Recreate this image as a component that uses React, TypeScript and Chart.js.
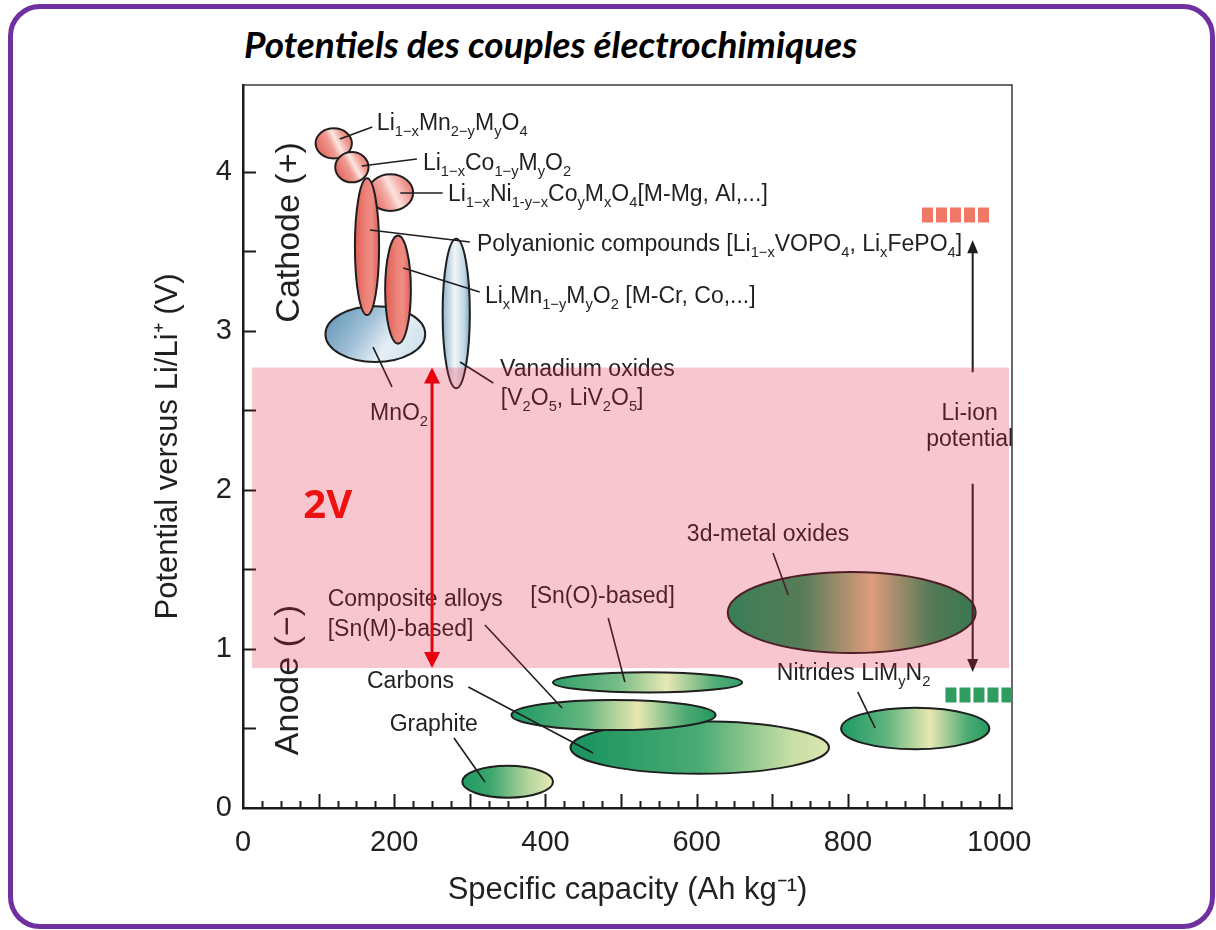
import React, { useEffect, useRef } from 'react';
import { Chart, registerables } from 'chart.js';

Chart.register(...registerables);

// ---------- axes ----------
const X_TICKS = [0, 200, 400, 600, 800, 1000];
const Y_TICKS = [0, 1, 2, 3, 4];
const X_MIN = 0;
const X_MAX = 1017;
const Y_MIN = 0;
const Y_MAX = 4.547;
const X_TITLE = 'Specific capacity (Ah kg⁻¹)';
const Y_TITLE = 'Potential versus Li/Li⁺ (V)';
const CHART_TITLE = 'Potentiels des couples électrochimiques';

// ---------- material domains (capacity Ah/kg, potential V) ----------
const ELLIPSE_NAMES = [
  'MnO2', 'LiMn2O4', 'LiCoO2', 'LiNiCoO4', 'Polyanionic', 'LiMnO2', 'Vanadium',
  'Graphite', 'Carbons', 'Composite', 'SnO', 'Oxides3d', 'Nitrides',
];
const ELLIPSE_CX = [175, 120, 144, 195, 164, 205, 282, 350, 604, 490, 535, 805, 889];
const ELLIPSE_CY = [2.98, 4.18, 4.03, 3.87, 3.53, 3.26, 3.11, 0.165, 0.38, 0.585, 0.79, 1.23, 0.5];
const ELLIPSE_RX = [66, 24, 22, 30, 16, 17, 18, 60, 171, 135, 125, 164, 98];
const ELLIPSE_RY = [0.175, 0.095, 0.095, 0.115, 0.43, 0.34, 0.47, 0.1, 0.165, 0.095, 0.063, 0.255, 0.13];

// ---------- labels ----------
const LABEL_TEXT = [
  'Li_{1−x}Mn_{2−y}M_{y}O_{4}',
  'Li_{1−x}Co_{1−y}M_{y}O_{2}',
  'Li_{1−x}Ni_{1-y−x}Co_{y}M_{x}O_{4}[M-Mg, Al,...]',
  'Polyanionic compounds [Li_{1−x}VOPO_{4}, Li_{x}FePO_{4}]',
  'Li_{x}Mn_{1−y}M_{y}O_{2} [M-Cr, Co,...]',
  'Vanadium oxides',
  '[V_{2}O_{5}, LiV_{2}O_{5}]',
  'MnO_{2}',
  'Composite alloys',
  '[Sn(M)-based]',
  '[Sn(O)-based]',
  'Carbons',
  'Graphite',
  '3d-metal oxides',
  'Nitrides LiM_{y}N_{2}',
];
const LABEL_X = [177, 238, 271, 309.5, 320, 340, 341, 168, 112, 112, 380, 164, 194, 587, 706];
const LABEL_Y = [4.314, 4.063, 3.868, 3.553, 3.226, 2.767, 2.585, 2.49, 1.321, 1.132, 1.34, 0.805, 0.535, 1.73, 0.855];

const LEADER_X1 = [128, 157, 208, 168, 212, 287, 172, 320, 483, 298, 279, 701, 813];
const LEADER_Y1 = [4.208, 4.038, 3.868, 3.635, 3.396, 2.805, 2.899, 1.151, 1.195, 0.761, 0.44, 1.604, 0.73];
const LEADER_X2 = [171, 230, 264, 300, 313, 331, 197, 422, 505, 463, 320, 721, 836];
const LEADER_Y2 = [4.283, 4.082, 3.868, 3.56, 3.245, 2.673, 2.648, 0.629, 0.792, 0.346, 0.164, 1.34, 0.503];

const SIDE_TEXT = ['Cathode (+)', 'Anode (−)'];
const SIDE_X = [62, 60];
const SIDE_Y = [3.62, 0.805];

// ---------- Li-ion potential markers ----------
const LIION_X = 965;
const LIION_UP = [2.74, 3.57];
const LIION_DOWN = [2.04, 0.855];
const LIION_TEXT = ['Li-ion', 'potential'];
const LIION_TEXT_Y = [2.49, 2.327];
const CATHODE_BAR_X = [898, 988];
const CATHODE_BAR_Y = 3.73;
const ANODE_BAR_X = [929, 1017];
const ANODE_BAR_Y = 0.71;

// ---------- 2V window ----------
const BAND_X = [12, 1013];
const BAND_Y = [0.88, 2.77];
const GAP_X = 250;
const GAP_TEXT = '2V';
const GAP_TEXT_X = 112;
const GAP_TEXT_Y = 1.893;

const FONT = "'Liberation Sans', Arial, Helvetica, sans-serif";
const INK = '#231f20';

type Stops = [number, string][];
const STYLES: Record<string, { dir: 'h' | 'd' | 'd2'; stops: Stops }> = {
  MnO2: { dir: 'd', stops: [[0, '#5a8fb3'], [0.45, '#9fc0d6'], [0.75, '#e6eff5'], [1, '#d3e3ed']] },
  LiMn2O4: { dir: 'd2', stops: [[0, '#e35d55'], [0.42, '#f09a91'], [0.58, '#fbe6e1'], [0.78, '#f09e95'], [1, '#e56d64']] },
  LiCoO2: { dir: 'd2', stops: [[0, '#e35d55'], [0.42, '#f09a91'], [0.58, '#fbe6e1'], [0.78, '#f09e95'], [1, '#e56d64']] },
  LiNiCoO4: { dir: 'd2', stops: [[0, '#e35d55'], [0.4, '#f3aaa2'], [0.55, '#fbe3de'], [0.8, '#f0a098'], [1, '#e56d64']] },
  Polyanionic: { dir: 'h', stops: [[0, '#e05c54'], [0.45, '#ec8379'], [0.7, '#ee8d83'], [1, '#de5f57']] },
  LiMnO2: { dir: 'h', stops: [[0, '#e05c54'], [0.45, '#ec8379'], [0.7, '#ee8d83'], [1, '#de5f57']] },
  Vanadium: { dir: 'h', stops: [[0, '#93b6cc'], [0.45, '#f1f6f9'], [0.8, '#c1d6e3'], [1, '#7aa3bd']] },
  Graphite: { dir: 'h', stops: [[0, '#1f9b63'], [0.3, '#3aa56c'], [0.75, '#b9d8a0'], [1, '#e6e9b3']] },
  Carbons: { dir: 'h', stops: [[0, '#17925e'], [0.5, '#4aab74'], [0.85, '#c6dea4'], [1, '#dde7b2']] },
  Composite: { dir: 'h', stops: [[0, '#1b9862'], [0.35, '#62b47e'], [0.62, '#e8e7b0'], [0.85, '#4daa74'], [1, '#23985f']] },
  SnO: { dir: 'h', stops: [[0, '#2e9f69'], [0.35, '#78bd88'], [0.6, '#e8e8b4'], [0.85, '#55ad77'], [1, '#339f6a']] },
  Oxides3d: { dir: 'h', stops: [[0, '#00a060'], [0.3, '#2a9c62'], [0.58, '#dcc894'], [0.82, '#27985f'], [1, '#00975a']] },
  Nitrides: { dir: 'h', stops: [[0, '#1c9a63'], [0.3, '#5db37d'], [0.6, '#e8e8b2'], [0.85, '#4eab74'], [1, '#26995f']] },
};

function parseRich(text: string) {
  const segs: { t: string; k: number }[] = [];
  let buf = '';
  let i = 0;
  while (i < text.length) {
    const c = text[i];
    if ((c === '_' || c === '^') && text[i + 1] === '{') {
      if (buf) segs.push({ t: buf, k: 0 });
      buf = '';
      const end = text.indexOf('}', i);
      segs.push({ t: text.slice(i + 2, end), k: c === '_' ? 1 : 2 });
      i = end + 1;
    } else {
      buf += c;
      i++;
    }
  }
  if (buf) segs.push({ t: buf, k: 0 });
  return segs;
}

function drawRich(ctx: CanvasRenderingContext2D, text: string, x: number, cy: number, size: number, align: 'left' | 'center', color: string) {
  const segs = parseRich(text);
  const sub = size * 0.64;
  let w = 0;
  for (const s of segs) {
    ctx.font = `${s.k ? sub : size}px ${FONT}`;
    w += ctx.measureText(s.t).width;
  }
  let cx = align === 'center' ? x - w / 2 : x;
  const base = cy + size * 0.36;
  ctx.fillStyle = color;
  ctx.textBaseline = 'alphabetic';
  ctx.textAlign = 'left';
  for (const s of segs) {
    ctx.font = `${s.k ? sub : size}px ${FONT}`;
    const dy = s.k === 1 ? size * 0.26 : s.k === 2 ? -size * 0.4 : 0;
    ctx.fillText(s.t, cx, base + dy);
    cx += ctx.measureText(s.t).width;
  }
}

function arrowHead(ctx: CanvasRenderingContext2D, x: number, y: number, dir: number, len: number, half: number) {
  ctx.beginPath();
  ctx.moveTo(x, y);
  ctx.lineTo(x - half, y - dir * len);
  ctx.lineTo(x + half, y - dir * len);
  ctx.closePath();
  ctx.fill();
}

const annotationPlugin = {
  id: 'electroAnnotations',
  afterDatasetsDraw(chart: any) {
    const { ctx, chartArea: ca, scales } = chart;
    const xs = scales.x;
    const ys = scales.y;
    const X = (v: number) => xs.getPixelForValue(v);
    const Y = (v: number) => ys.getPixelForValue(v);
    ctx.save();

    // top / right frame of the plot
    ctx.strokeStyle = '#3a3a3a';
    ctx.lineWidth = 1.5;
    ctx.beginPath();
    ctx.moveTo(ca.left, ca.top);
    ctx.lineTo(ca.right, ca.top);
    ctx.lineTo(ca.right, ca.bottom);
    ctx.stroke();

    // inward tick marks
    ctx.strokeStyle = '#1a1a1a';
    ctx.lineWidth = 2;
    ctx.beginPath();
    for (let v = 25; v <= 1000; v += 25) {
      const px = Math.round(X(v)) + 0.5;
      const len = v % 100 === 0 ? 14 : 7;
      ctx.moveTo(px, ca.bottom);
      ctx.lineTo(px, ca.bottom - len);
    }
    for (let v = 0.5; v <= 4; v += 0.5) {
      const py = Math.round(Y(v)) + 0.5;
      ctx.moveTo(ca.left, py);
      ctx.lineTo(ca.left + 13, py);
    }
    ctx.stroke();

    ctx.beginPath();
    ctx.rect(ca.left, ca.top, ca.right - ca.left, ca.bottom - ca.top);
    ctx.clip();

    // domains
    for (let i = 0; i < ELLIPSE_NAMES.length; i++) {
      const cx = X(ELLIPSE_CX[i]);
      const cy = Y(ELLIPSE_CY[i]);
      const rx = Math.abs(X(ELLIPSE_CX[i] + ELLIPSE_RX[i]) - cx);
      const ry = Math.abs(Y(ELLIPSE_CY[i] + ELLIPSE_RY[i]) - cy);
      const st = STYLES[ELLIPSE_NAMES[i]];
      let g: CanvasGradient;
      if (st.dir === 'h') g = ctx.createLinearGradient(cx - rx, cy, cx + rx, cy);
      else if (st.dir === 'd') g = ctx.createLinearGradient(cx - rx, cy - ry, cx + rx * 0.6, cy + ry);
      else g = ctx.createLinearGradient(cx - rx, cy + ry * 0.6, cx + rx, cy - ry * 0.6);
      for (const [o, c] of st.stops) g.addColorStop(o, c);
      ctx.beginPath();
      ctx.ellipse(cx, cy, rx, ry, 0, 0, Math.PI * 2);
      ctx.fillStyle = g;
      ctx.fill();
      ctx.strokeStyle = '#1e1e1e';
      ctx.lineWidth = 2;
      ctx.stroke();
    }

    // leader lines
    ctx.strokeStyle = '#1e1e1e';
    ctx.lineWidth = 1.6;
    ctx.beginPath();
    for (let i = 0; i < LEADER_X1.length; i++) {
      ctx.moveTo(X(LEADER_X1[i]), Y(LEADER_Y1[i]));
      ctx.lineTo(X(LEADER_X2[i]), Y(LEADER_Y2[i]));
    }
    ctx.stroke();

    // labels
    for (let i = 0; i < LABEL_TEXT.length; i++) {
      drawRich(ctx, LABEL_TEXT[i], X(LABEL_X[i]), Y(LABEL_Y[i]), 23, 'left', INK);
    }
    for (let i = 0; i < SIDE_TEXT.length; i++) {
      ctx.save();
      ctx.translate(X(SIDE_X[i]), Y(SIDE_Y[i]));
      ctx.rotate(-Math.PI / 2);
      ctx.font = `34px ${FONT}`;
      ctx.fillStyle = INK;
      ctx.textAlign = 'center';
      ctx.textBaseline = 'middle';
      ctx.fillText(SIDE_TEXT[i], 0, 0);
      ctx.restore();
    }

    // Li-ion potential
    ctx.strokeStyle = '#1e1e1e';
    ctx.fillStyle = '#1e1e1e';
    ctx.lineWidth = 2;
    const lx = X(LIION_X);
    ctx.beginPath();
    ctx.moveTo(lx, Y(LIION_UP[0]));
    ctx.lineTo(lx, Y(LIION_UP[1]) + 8);
    ctx.moveTo(lx, Y(LIION_DOWN[0]));
    ctx.lineTo(lx, Y(LIION_DOWN[1]) - 8);
    ctx.stroke();
    arrowHead(ctx, lx, Y(LIION_UP[1]), -1, 13, 5.5);
    arrowHead(ctx, lx, Y(LIION_DOWN[1]), 1, 13, 5.5);
    for (let i = 0; i < LIION_TEXT.length; i++) {
      drawRich(ctx, LIION_TEXT[i], lx - 3, Y(LIION_TEXT_Y[i]), 23, 'center', INK);
    }
    ctx.lineWidth = 15;
    ctx.setLineDash([11, 3]);
    ctx.strokeStyle = '#f07866';
    ctx.beginPath();
    ctx.moveTo(X(CATHODE_BAR_X[0]), Y(CATHODE_BAR_Y));
    ctx.lineTo(X(CATHODE_BAR_X[1]), Y(CATHODE_BAR_Y));
    ctx.stroke();
    ctx.strokeStyle = '#2f9d5f';
    ctx.beginPath();
    ctx.moveTo(X(ANODE_BAR_X[0]), Y(ANODE_BAR_Y));
    ctx.lineTo(X(ANODE_BAR_X[1]), Y(ANODE_BAR_Y));
    ctx.stroke();
    ctx.setLineDash([]);

    // translucent 2V window
    ctx.fillStyle = 'rgba(223, 27, 59, 0.25)';
    const bx0 = X(BAND_X[0]);
    const by0 = Y(BAND_Y[1]);
    ctx.fillRect(bx0, by0, X(BAND_X[1]) - bx0, Y(BAND_Y[0]) - by0);

    // red double arrow
    const gx = X(GAP_X);
    const gTop = Y(BAND_Y[1]);
    const gBot = Y(BAND_Y[0]);
    ctx.strokeStyle = '#e8000f';
    ctx.fillStyle = '#e8000f';
    ctx.lineWidth = 3;
    ctx.beginPath();
    ctx.moveTo(gx, gTop + 10);
    ctx.lineTo(gx, gBot - 10);
    ctx.stroke();
    arrowHead(ctx, gx, gTop, -1, 16, 8);
    arrowHead(ctx, gx, gBot, 1, 16, 8);

    ctx.font = `700 40px 'Open Sans', ${FONT}`;
    ctx.fillStyle = '#ee1111';
    ctx.textAlign = 'center';
    ctx.textBaseline = 'middle';
    ctx.fillText(GAP_TEXT, X(GAP_TEXT_X), Y(GAP_TEXT_Y));

    ctx.restore();
  },
};

export default function App() {
  const canvasRef = useRef<HTMLCanvasElement | null>(null);

  useEffect(() => {
    const canvas = canvasRef.current;
    if (!canvas) return;
    const chart = new Chart(canvas, {
      type: 'scatter',
      data: {
        datasets: [
          {
            label: 'domains',
            data: ELLIPSE_CX.map((x, i) => ({ x, y: ELLIPSE_CY[i] })),
            pointRadius: 0,
            showLine: false,
          },
        ],
      },
      options: {
        responsive: false,
        animation: false,
        events: [],
        layout: { padding: { left: 0, top: 85, right: 204, bottom: 0 } },
        plugins: {
          legend: { display: false },
          tooltip: { enabled: false },
          title: { display: false },
        },
        scales: {
          x: {
            type: 'linear',
            min: X_MIN,
            max: X_MAX,
            afterBuildTicks: (s: any) => {
              s.ticks = X_TICKS.map((v) => ({ value: v }));
            },
            afterFit: (s: any) => {
              s.height = 122;
            },
            grid: { display: false, drawTicks: false },
            border: { display: true, color: '#1a1a1a', width: 2.5 },
            ticks: {
              font: { family: FONT, size: 29 },
              color: INK,
              padding: 18,
              maxRotation: 0,
              autoSkip: false,
              callback: (v: any) => String(v),
            },
            title: {
              display: true,
              text: X_TITLE,
              font: { family: FONT, size: 31 },
              color: INK,
              padding: { top: 0, bottom: 21 },
            },
          },
          y: {
            type: 'linear',
            min: Y_MIN,
            max: Y_MAX,
            afterBuildTicks: (s: any) => {
              s.ticks = Y_TICKS.map((v) => ({ value: v }));
            },
            afterFit: (s: any) => {
              s.width = 243;
            },
            grid: { display: false, drawTicks: false },
            border: { display: true, color: '#1a1a1a', width: 2.5 },
            ticks: {
              font: { family: FONT, size: 29 },
              color: INK,
              padding: 11,
              autoSkip: false,
              callback: (v: any) => String(v),
            },
            title: {
              display: true,
              text: Y_TITLE,
              font: { family: FONT, size: 31 },
              color: INK,
              padding: { top: 150, bottom: 0 },
            },
          },
        },
      },
      plugins: [annotationPlugin],
    });
    return () => chart.destroy();
  }, []);

  return (
    <div style={{ position: 'absolute', left: 0, top: 0, width: 1216, height: 930, background: '#fff' }}>
      <div
        style={{
          position: 'absolute',
          left: 8,
          top: 4,
          width: 1207,
          height: 925,
          boxSizing: 'border-box',
          border: '5px solid #7030a0',
          borderRadius: 32,
        }}
      />
      <div
        style={{
          position: 'absolute',
          left: 244,
          top: 25,
          font: "italic 700 37px Lato, 'Open Sans', sans-serif",
          lineHeight: '37px',
          color: '#000',
          whiteSpace: 'nowrap',
        }}
      >
        {CHART_TITLE}
      </div>
      <canvas
        ref={canvasRef}
        width={1216}
        height={930}
        style={{ position: 'absolute', left: 0, top: 0, width: 1216, height: 930 }}
      />
    </div>
  );
}
